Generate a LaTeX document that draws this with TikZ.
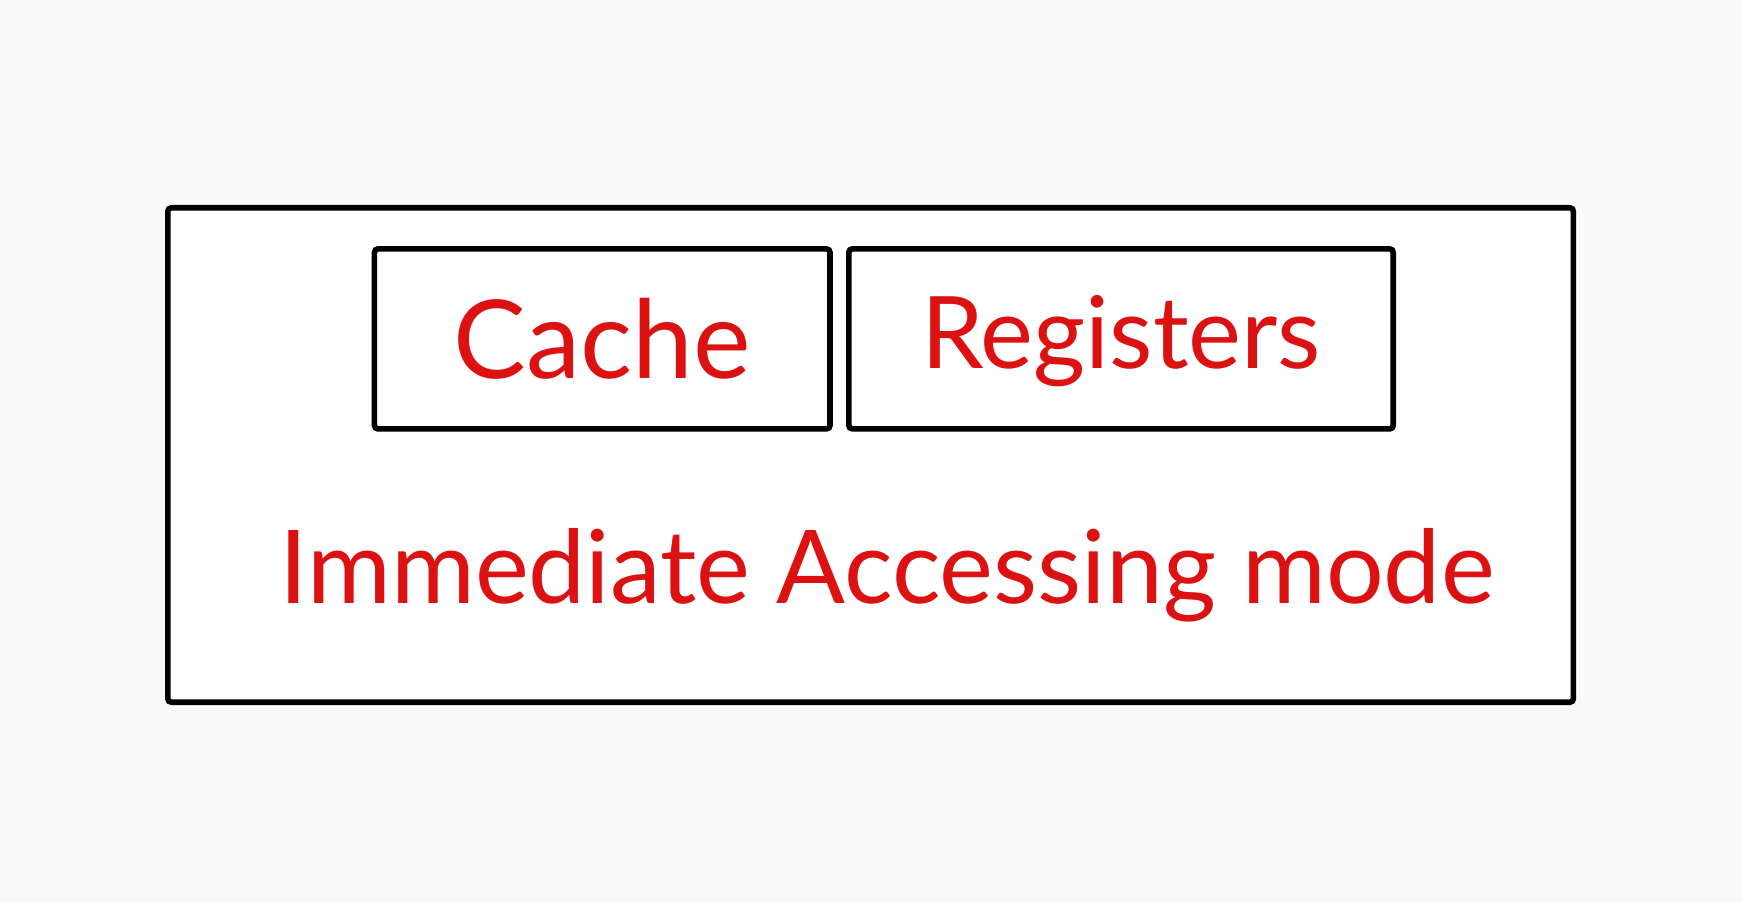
\documentclass[tikz,border=0pt]{standalone}
\usepackage{fontspec}
\setmainfont{Lato}
\usepackage{tikz}
\definecolor{penred}{RGB}{220,18,18}
\tikzset{
    frame/.style={draw,line width=1.6pt,rounded corners=1pt,inner sep=0pt},
    word/.style={text=penred,font=\fontsize{31}{36}\selectfont}
}

\begin{document}
\begin{tikzpicture}
                            \fill[white!98!black] (0,0) rectangle (17.42,9.03);
                            \useasboundingbox (0,0) rectangle (17.42,9.03);
                            \node[frame,fill=white,minimum width=14.055cm,minimum height=4.944cm] (outer) at (8.706,4.48) {};
                            \node[frame,minimum width=4.556cm,minimum height=1.8cm] (cache) at (6.022,5.641) {};
                            \node[frame,minimum width=5.444cm,minimum height=1.8cm] (regs) at (11.21,5.641) {};
                            \node[word] at (cache) {Cache};
                            \node[word,font=\fontsize{28.5}{33}\selectfont] at ([yshift=-0.02cm]regs) {Registers};
                            \node[word,anchor=base,font=\fontsize{29}{34}\selectfont] (mode) at (8.87,3.0) {Immediate Accessing mode};
                        \end{tikzpicture}
\end{document}
